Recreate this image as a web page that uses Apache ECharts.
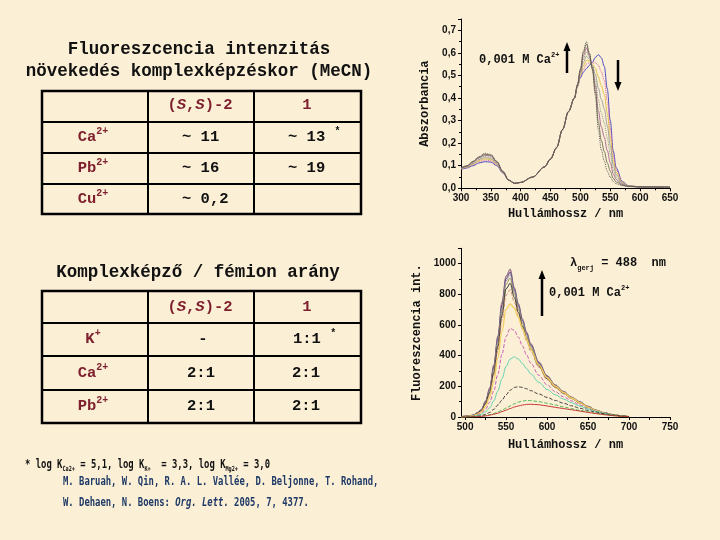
<!DOCTYPE html>
<html>
<head>
<meta charset="utf-8">
<script src="https://cdn.jsdelivr.net/npm/echarts@6/dist/echarts.min.js"></script>
<style>
html, body { margin: 0; padding: 0; background: #fbefd6; }
#chart { width: 720px; height: 540px; }
</style>
</head>
<body>
<div id="chart"></div>
<script>
// absorbance spectra, wavelength (nm) -> A
const absWl = [300,310,320,330,340,350,360,370,380,390,400,420,440,450,460,470,480,490,495,500,505,510,515,520,525,530,535,540,545,550,555,560,570,580,600,650];
const abs0 = [.083,.09,.1,.112,.118,.116,.1,.068,.035,.022,.026,.05,.095,.13,.18,.26,.34,.40,.45,.49,.515,.53,.545,.558,.58,.592,.578,.54,.44,.30,.165,.09,.03,.012,.006,.005];
const abs1 = [.085,.093,.105,.118,.125,.122,.104,.07,.035,.022,.026,.05,.095,.13,.18,.26,.34,.40,.45,.497,.528,.55,.555,.555,.556,.545,.516,.478,.387,.265,.145,.08,.028,.011,.006,.005];
const abs2 = [.086,.094,.107,.122,.13,.127,.107,.071,.035,.022,.026,.05,.095,.13,.18,.26,.34,.40,.45,.503,.543,.567,.564,.55,.53,.494,.455,.415,.332,.226,.123,.07,.025,.011,.006,.005];
const abs3 = [.087,.096,.11,.127,.136,.132,.11,.072,.035,.022,.026,.05,.095,.13,.18,.26,.34,.40,.455,.51,.558,.585,.572,.545,.505,.444,.394,.352,.277,.189,.104,.06,.022,.01,.006,.005];
const abs4 = [.088,.097,.113,.131,.142,.138,.113,.073,.036,.022,.026,.05,.095,.13,.18,.26,.34,.40,.455,.515,.573,.603,.58,.54,.479,.394,.333,.289,.222,.151,.084,.049,.019,.01,.006,.005];
const abs5 = [.089,.098,.116,.135,.147,.143,.116,.074,.036,.022,.026,.05,.095,.13,.18,.26,.34,.40,.455,.52,.587,.621,.588,.535,.454,.344,.272,.226,.167,.114,.064,.039,.017,.009,.006,.005];
const abs6 = [.09,.099,.118,.138,.151,.147,.118,.075,.036,.022,.026,.05,.095,.13,.18,.26,.34,.40,.46,.526,.602,.639,.596,.53,.428,.294,.212,.163,.113,.076,.044,.028,.014,.008,.006,.005];
const abs7 = [.091,.1,.12,.14,.155,.15,.12,.075,.036,.022,.026,.05,.095,.13,.18,.26,.34,.40,.46,.53,.61,.65,.60,.525,.41,.26,.17,.12,.075,.05,.03,.02,.012,.008,.006,.005];
const absColors = ['#3c3cc0','#d8509a','#e0c040','#9a9a9a','#7c9a7c','#a06090','#6e6e50','#505050'];

// fluorescence spectra, wavelength (nm) -> intensity
const flWl = [495,500,505,510,515,520,525,530,535,540,545,550,555,560,565,570,575,580,590,600,610,620,630,640,650,660,670,680,690,700];
const fl01 = [2,5,8,13,28,50,105,190,340,530,750,920,965,845,740,640,555,480,360,270,210,168,130,100,70,45,28,16,8,2];
const fl02 = [2,5,8,12,27,49,102,184,334,522,740,915,958,840,735,636,551,476,356,267,208,166,129,99,69,44,27,16,8,2];
const fl03 = [2,4,7,12,26,47,99,178,325,512,728,902,945,832,727,628,545,471,352,264,206,164,127,97,68,43,27,16,8,2];
const fl04 = [2,4,7,11,25,46,96,173,316,500,712,888,930,822,718,620,538,465,348,261,204,162,126,96,67,43,26,15,8,2];
const fl05 = [2,4,7,11,24,44,92,166,303,482,690,865,905,805,703,607,527,456,341,256,200,159,124,94,66,42,26,15,7,2];
const fl06 = [2,4,6,10,23,42,88,158,288,460,662,835,872,780,682,590,512,443,332,249,195,155,121,92,64,41,25,15,7,2];
const fl07 = [1,3,6,10,21,40,83,150,272,436,630,795,830,750,660,572,497,431,324,243,191,152,119,90,62,40,24,14,7,2];
const fl08 = [1,3,5,9,18,34,70,130,235,385,560,700,738,710,648,578,508,443,338,256,201,160,124,94,65,42,25,15,8,2];
const fl09 = [1,2,4,7,14,26,52,95,170,280,410,525,578,565,520,463,405,352,272,210,165,132,105,78,56,38,24,14,7,2];
const fl10 = [1,2,3,5,10,18,34,60,105,170,250,330,378,392,378,348,315,282,226,180,145,117,93,71,52,37,24,14,7,2];
const fl11 = [0,1,2,3,5,9,17,30,50,78,110,145,175,193,197,193,184,172,150,128,108,90,73,57,43,31,21,13,7,2];
const fl12 = [0,0,1,2,3,5,9,15,23,33,45,58,72,86,97,104,108,107,100,90,78,66,54,43,33,24,16,10,5,2];
const fl13 = [0,0,0,1,2,4,7,12,18,25,35,45,55,65,72,78,82,83,80,72,63,55,47,39,30,22,15,9,5,2];
const flColors = ['#6a6a6a','#c87898','#3a3a78','#9a8ab0','#8a8a5a','#2a2a2a','#c88060','#f2cf5a','#c050b0','#50d0a8','#303030','#40b040','#c02828'];
const flDash = ['solid','solid','solid','solid','solid','solid','dashed','solid','dashed','solid','dashed','dashed','solid'];

const absTicks = [0, 0.1, 0.2, 0.3, 0.4, 0.5, 0.6, 0.7];
const flLabelNm = [500, 550, 600, 650, 700, 750];
const flTickNm = [500, 525, 550, 575, 600, 625, 650, 675, 700, 725, 750];

const maroon = '#7d1f2c';
const navy = '#1f3a66';
const mono = (size, style) => (style ? style + ' ' : '') + 'bold ' + size + 'px "Liberation Mono", "Courier New", monospace';
const tickFont = { fontFamily: '"Liberation Sans", Arial, sans-serif', fontWeight: 'bold', fontSize: 10, color: '#111' };
const nameFont = { fontFamily: '"Liberation Mono", monospace', fontWeight: 'bold', fontSize: 12, color: '#111' };

function rich(size, color, mk) {
  const m = mk || mono;
  return {
    sup: { font: m(Math.round(size * 0.62)), fill: color, verticalAlign: 'top' },
    sub: { font: m(Math.round(size * 0.55)), fill: color, verticalAlign: 'bottom' },
    it: { font: m(size, 'italic'), fill: color }
  };
}

function txt(x, y, text, size, color, align, extra) {
  return Object.assign({
    type: 'text', x: x, y: y, silent: true,
    style: {
      text: text, font: mono(size), fill: color,
      align: align, verticalAlign: 'middle', textAlign: align, textVerticalAlign: 'middle',
      lineHeight: Math.round(size * 1.45), rich: rich(size, color)
    }
  }, extra || {});
}

function hline(x1, x2, y, w) {
  return { type: 'line', silent: true, shape: { x1: x1, y1: y, x2: x2, y2: y }, style: { stroke: '#000', lineWidth: w || 2 } };
}
function vline(x, y1, y2, w) {
  return { type: 'line', silent: true, shape: { x1: x, y1: y1, x2: x, y2: y2 }, style: { stroke: '#000', lineWidth: w || 2 } };
}
function arrow(x, yTail, yHead) {
  const dir = yHead < yTail ? 1 : -1;
  return [
    vline(x, yTail, yHead + dir * 6, 2.5),
    { type: 'polygon', silent: true, shape: { points: [[x, yHead], [x - 3.5, yHead + dir * 9], [x + 3.5, yHead + dir * 9]] }, style: { fill: '#000' } }
  ];
}

function table(top, rowLines, bottom) {
  const els = [
    { type: 'rect', silent: true, shape: { x: 42, y: top, width: 319, height: bottom - top }, style: { fill: 'none', stroke: '#000', lineWidth: 2.5 } },
    vline(148, top, bottom), vline(254, top, bottom)
  ];
  rowLines.forEach(y => els.push(hline(42, 361, y)));
  return els;
}

const footFont = (size, style) => (style ? style + ' ' : '') + 'bold ' + size + 'px "DejaVu Sans Mono", monospace';
function foot(x, y, text, color) {
  return {
    type: 'text', x: x, y: y, scaleX: 0.74, silent: true,
    style: {
      text: text, font: footFont(12), fill: color, align: 'left', verticalAlign: 'middle',
      textAlign: 'left', textVerticalAlign: 'middle', lineHeight: 15, rich: rich(12, color, footFont)
    }
  };
}

const graphics = [].concat(
  [
    txt(199, 50, 'Fluoreszcencia intenzitás', 17.5, '#111', 'center'),
    txt(199, 72, 'növekedés komplexképzéskor (MeCN)', 17.5, '#111', 'center')
  ],
  table(91, [122, 153, 184], 214),
  [
    txt(200, 105, '({it|S},{it|S})-2', 15.5, maroon, 'center'),
    txt(307, 105, '1', 15.5, maroon, 'center'),
    txt(93, 137, 'Ca{sup|2+}', 15.5, maroon, 'center'),
    txt(182, 137, '~ 11', 15.5, '#111', 'left'),
    txt(288, 137, '~ 13 {sup|*}', 15.5, '#111', 'left'),
    txt(93, 168, 'Pb{sup|2+}', 15.5, maroon, 'center'),
    txt(182, 168, '~ 16', 15.5, '#111', 'left'),
    txt(288, 168, '~ 19', 15.5, '#111', 'left'),
    txt(93, 199, 'Cu{sup|2+}', 15.5, maroon, 'center'),
    txt(182, 199, '~ 0,2', 15.5, '#111', 'left'),
    txt(198, 273, 'Komplexképző / fémion arány', 17.5, '#111', 'center')
  ],
  table(291, [323, 356, 390], 423),
  [
    txt(200, 307, '({it|S},{it|S})-2', 15.5, maroon, 'center'),
    txt(307, 307, '1', 15.5, maroon, 'center'),
    txt(93, 339, 'K{sup|+}', 15.5, maroon, 'center'),
    txt(203, 339, '-', 15.5, '#111', 'center'),
    txt(293, 339, '1:1 {sup|*}', 15.5, '#111', 'left'),
    txt(93, 373, 'Ca{sup|2+}', 15.5, maroon, 'center'),
    txt(201, 373, '2:1', 15.5, '#111', 'center'),
    txt(306, 373, '2:1', 15.5, '#111', 'center'),
    txt(93, 406, 'Pb{sup|2+}', 15.5, maroon, 'center'),
    txt(201, 406, '2:1', 15.5, '#111', 'center'),
    txt(306, 406, '2:1', 15.5, '#111', 'center')
  ],
  // annotations on the spectra
  [
    txt(479, 60, '0,001 M Ca{sup|2+}', 12, '#111', 'left'),
    txt(570, 263, 'λ{sub|gerj} = 488  nm', 12, '#111', 'left', {}),
    txt(549, 293, '0,001 M Ca{sup|2+}', 12, '#111', 'left')
  ],
  arrow(567, 73, 42),
  arrow(618, 60, 91),
  arrow(542, 316, 270),
  [
    foot(25, 465, '* log K{sub|Ca2+} = 5,1, log K{sub|K+}  = 3,3, log K{sub|Mg2+} = 3,0', '#111'),
    foot(63, 482, 'M. Baruah, W. Qin, R. A. L. Vallée, D. Beljonne, T. Rohand,', navy),
    foot(63, 503, 'W. Dehaen, N. Boens: {it|Org. Lett.} 2005, 7, 4377.', navy)
  ]
);

const absSeries = [abs0, abs1, abs2, abs3, abs4, abs5, abs6, abs7].map((vals, i) => ({
  type: 'line', xAxisIndex: 0, yAxisIndex: 0, showSymbol: false, silent: true,
  smooth: 0.35, smoothMonotone: 'x',
  data: vals.map((v, j) => [absWl[j], v]),
  lineStyle: { width: 0.9, color: absColors[i], type: i % 3 === 1 ? 'dotted' : 'solid' }
}));

const flSeries = [fl01, fl02, fl03, fl04, fl05, fl06, fl07, fl08, fl09, fl10, fl11, fl12, fl13].map((vals, i) => ({
  type: 'line', xAxisIndex: 1, yAxisIndex: 1, showSymbol: false, silent: true,
  smooth: 0.35, smoothMonotone: 'x',
  data: vals.map((v, j) => [flWl[j], v]),
  lineStyle: { width: i === 7 ? 1.3 : 0.9, color: flColors[i], type: flDash[i] }
}));

const axisLine = { show: true, lineStyle: { color: '#000', width: 1 } };
const axisTick = { show: true, length: 3, lineStyle: { color: '#000' } };
const minorTick = { show: true, splitNumber: 2, length: 2, lineStyle: { color: '#000' } };

const option = {
  backgroundColor: '#fbefd6',
  animation: false,
  grid: [
    { left: 461, top: 19, width: 209, height: 169.3 },
    { left: 461, top: 248.3, width: 209, height: 168.7 }
  ],
  xAxis: [
    {
      type: 'value', gridIndex: 0, min: 300, max: 650, interval: 50,
      axisLine: axisLine, axisTick: axisTick, minorTick: minorTick, splitLine: { show: false },
      axisLabel: Object.assign({ margin: 5, formatter: v => String(v) }, tickFont),
      name: 'Hullámhossz / nm', nameLocation: 'middle', nameGap: 20, nameTextStyle: nameFont
    },
    {
      type: 'value', gridIndex: 1, min: 495, max: 750,
      axisLine: axisLine, splitLine: { show: false },
      axisTick: Object.assign({ customValues: flTickNm }, axisTick),
      axisLabel: Object.assign({ margin: 5, customValues: flLabelNm, formatter: v => String(v) }, tickFont),
      name: 'Hullámhossz / nm', nameLocation: 'middle', nameGap: 22, nameTextStyle: nameFont
    }
  ],
  yAxis: [
    {
      type: 'value', gridIndex: 0, min: 0, max: 0.75, interval: 0.1,
      axisLine: axisLine, axisTick: axisTick, minorTick: minorTick, splitLine: { show: false },
      axisLabel: Object.assign({
        margin: 5, showMaxLabel: false,
        formatter: v => absTicks.indexOf(Math.round(v * 10) / 10) >= 0 ? v.toFixed(1).replace('.', ',') : ''
      }, tickFont),
      name: 'Abszorbancia', nameLocation: 'middle', nameGap: 30, nameTextStyle: nameFont
    },
    {
      type: 'value', gridIndex: 1, min: 0, max: 1100, interval: 200,
      axisLine: axisLine, axisTick: axisTick, minorTick: minorTick, splitLine: { show: false },
      axisLabel: Object.assign({ margin: 5, showMaxLabel: false, formatter: v => String(v) }, tickFont),
      name: 'Fluoreszcencia int.', nameLocation: 'middle', nameGap: 38, nameTextStyle: nameFont
    }
  ],
  series: absSeries.concat(flSeries),
  graphic: graphics
};

const myChart = echarts.init(document.getElementById('chart'));
myChart.setOption(option);
</script>
</body>
</html>
